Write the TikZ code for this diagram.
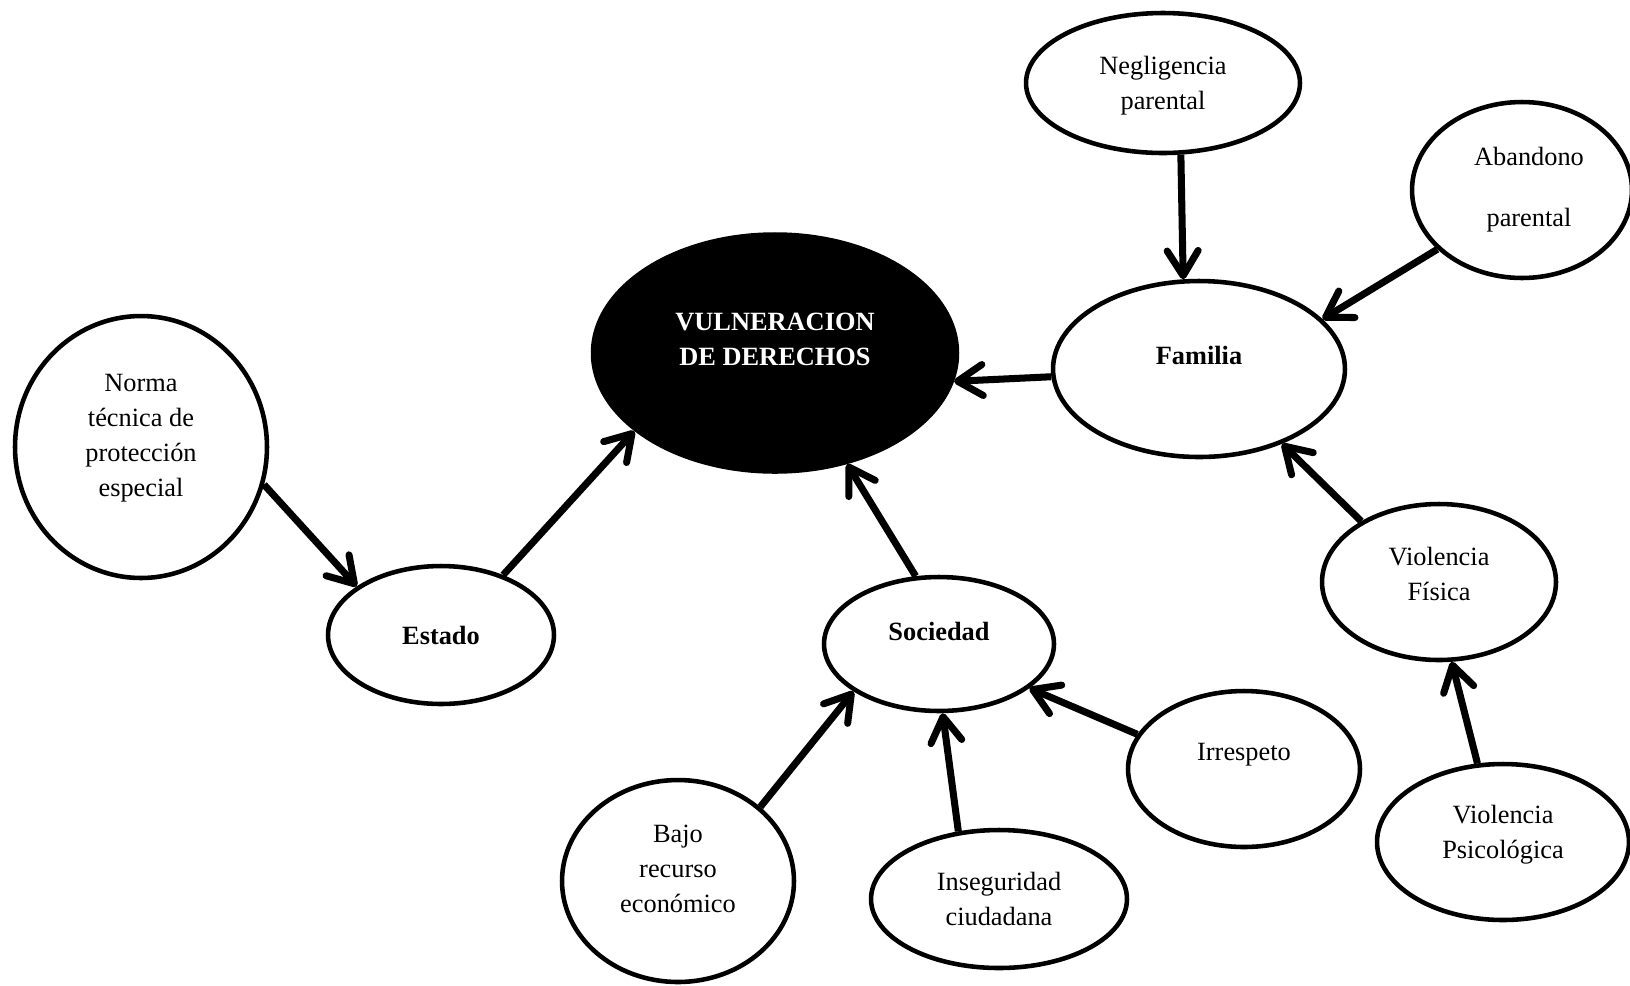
\documentclass[tikz,border=0pt]{standalone}
\usepackage{fontspec}
\setmainfont{Liberation Serif}
\usetikzlibrary{shapes.geometric,arrows.meta}
\begin{document}
\begin{tikzpicture}[x=0.02cm,y=-0.02cm,
  bub/.style={ellipse,draw,line width=2.6pt,inner sep=0pt,fill=white},
  every label/.style={align=center,font=\fontsize{15}{20}\selectfont,inner sep=0pt},
  conn/.style={line width=4pt,-{Straight Barb[length=0.5cm,width=0.62cm,round]}}]
\useasboundingbox (0,0) rectangle (1630,985);
\node[bub,minimum width=5.48cm,minimum height=2.8cm,label={[yshift=-0.06cm]center:Negligencia\\parental}] (neg) at (1163,83) {};
\node[bub,minimum width=4.4cm,minimum height=3.52cm,label={[xshift=0.14cm,font=\fontsize{15}{34.7}\selectfont]center:Abandono\\parental}] (aban) at (1522,190) {};
\node[bub,minimum width=5.84cm,minimum height=3.52cm,label={[yshift=0.27cm,font=\fontsize{15}{20}\selectfont\bfseries]center:Familia}] (fam) at (1199,369) {};
\node[bub,fill=black,minimum width=7.28cm,minimum height=4.74cm,label={[text=white,yshift=0.28cm,font=\fontsize{15}{20}\selectfont\bfseries]center:VULNERACION\\DE DERECHOS}] (vuln) at (775,353) {};
\node[bub,minimum width=5.04cm,minimum height=5.24cm,label={[yshift=0.18cm]center:Norma\\técnica de\\protección\\especial}] (norma) at (141,447) {};
\node[bub,minimum width=4.52cm,minimum height=2.76cm,label={[font=\fontsize{15}{20}\selectfont\bfseries]center:Estado}] (estado) at (441,635) {};
\node[bub,minimum width=4.6cm,minimum height=2.68cm,label={[yshift=0.26cm,font=\fontsize{15}{20}\selectfont\bfseries]center:Sociedad}] (soc) at (939,644) {};
\node[bub,minimum width=4.68cm,minimum height=3.12cm,label={[yshift=0.16cm]center:Violencia\\Física}] (vf) at (1439,582) {};
\node[bub,minimum width=4.64cm,minimum height=3.12cm,label={[yshift=0.28cm]center:Irrespeto}] (irr) at (1244,769) {};
\node[bub,minimum width=5.04cm,minimum height=3.12cm,label={[yshift=0.14cm]center:Violencia\\Psicológica}] (vp) at (1503,842) {};
\node[bub,minimum width=4.64cm,minimum height=4.04cm,label={[yshift=0.24cm]center:Bajo\\recurso\\económico}] (bajo) at (678,881) {};
\node[bub,minimum width=5.12cm,minimum height=2.76cm,label={center:Inseguridad\\ciudadana}] (ins) at (999,899) {};
\draw[conn] (neg.-76) -- (fam.100);
\draw[conn] (aban.215) -- (fam.22);
\draw[conn] (fam.183) -- (vuln.-9);
\draw[conn] (norma.-17) -- (estado.150);
\draw[conn] (estado.44) -- (vuln.209);
\draw[conn] (soc.109) -- (vuln.-57);
\draw[conn] (vf.142) -- (fam.-42);
\draw[conn] (vp.108) -- (vf.-81);
\draw[conn] (irr.162) -- (soc.-26);
\draw[conn] (ins.121) -- (soc.-87);
\draw[conn] (bajo.42) -- (soc.209);
\end{tikzpicture}
\end{document}
